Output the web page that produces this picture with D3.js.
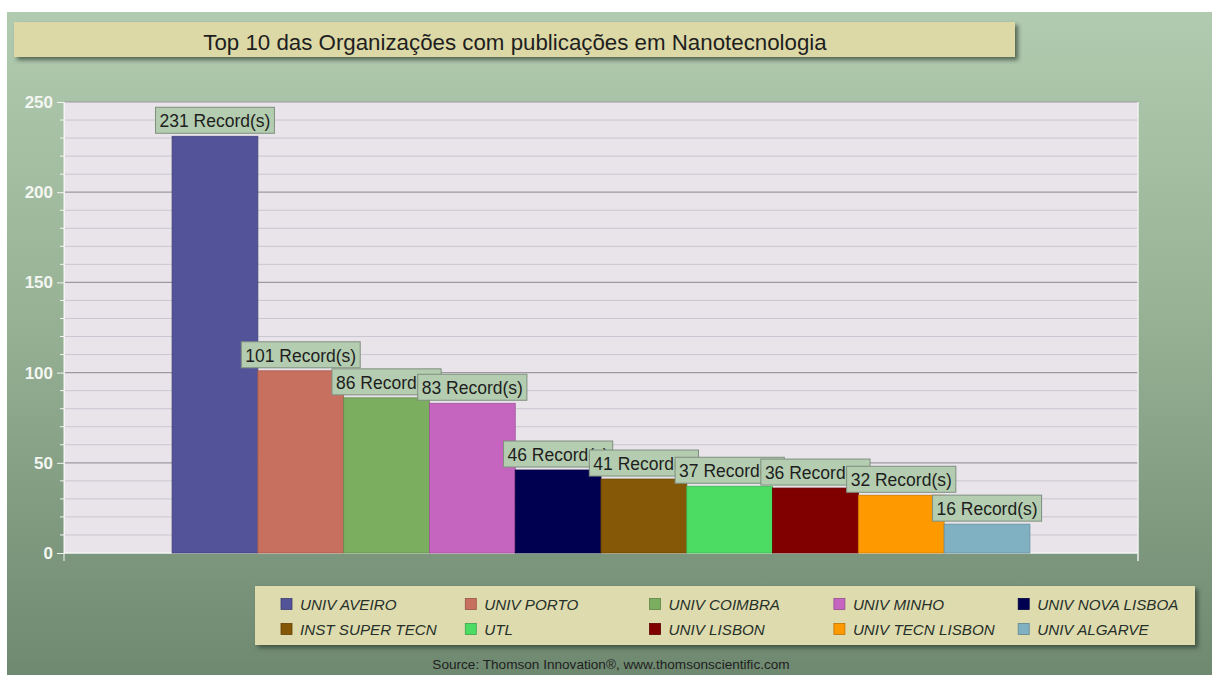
<!DOCTYPE html>
<html>
<head>
<meta charset="utf-8">
<script src="https://cdn.jsdelivr.net/npm/d3@7"></script>
<style>
  body { margin: 0; background: #fff; }
  text { font-family: "Liberation Sans", Arial, sans-serif; }
</style>
</head>
<body>
<div id="chart"></div>
<script>
// data
var orgs = ["UNIV AVEIRO", "UNIV PORTO", "UNIV COIMBRA", "UNIV MINHO", "UNIV NOVA LISBOA",
  "INST SUPER TECN", "UTL", "UNIV LISBON", "UNIV TECN LISBON", "UNIV ALGARVE"];
var records = [231, 101, 86, 83, 46, 41, 37, 36, 32, 16];
var barColors = ["#535399", "#c8705f", "#7bae5f", "#c565c0", "#000050",
  "#845806", "#4cdc64", "#800000", "#ff9900", "#80b1c2"];
var yTicks = [0, 50, 100, 150, 200, 250];

var w = 1212, h = 675;
var plot = { left: 64, right: 1138, top: 102, bottom: 553 };

var svg = d3.select("#chart").append("svg")
  .attr("width", w)
  .attr("height", h);

var defs = svg.append("defs");
var grad = defs.append("linearGradient")
  .attr("id", "bg").attr("x1", 0).attr("y1", 0).attr("x2", 0).attr("y2", 1);
grad.append("stop").attr("offset", "0%").attr("stop-color", "#b1cbb0");
grad.append("stop").attr("offset", "45%").attr("stop-color", "#97b295");
grad.append("stop").attr("offset", "100%").attr("stop-color", "#6e8970");

var shadow = defs.append("filter").attr("id", "shadow")
  .attr("x", "-5%").attr("y", "-30%").attr("width", "110%").attr("height", "170%");
shadow.append("feDropShadow").attr("dx", 3).attr("dy", 3).attr("stdDeviation", 2)
  .attr("flood-color", "#2f3a2f").attr("flood-opacity", 0.7);

// green panel
svg.append("rect")
  .attr("x", 7).attr("y", 12)
  .attr("width", w - 7).attr("height", h - 12)
  .attr("fill", "url(#bg)");

// title box
svg.append("rect")
  .attr("x", 14).attr("y", 22).attr("width", 1001).attr("height", 35)
  .attr("fill", "#dcd9a7")
  .attr("filter", "url(#shadow)");
svg.append("text")
  .attr("x", 515).attr("y", 50)
  .attr("text-anchor", "middle")
  .style("font-size", "22.3px")
  .style("fill", "#1e1e1e")
  .text("Top 10 das Organizações com publicações em Nanotecnologia");

var x = d3.scaleBand()
  .domain(orgs)
  .range([plot.left, plot.right])
  .paddingInner(0)
  .paddingOuter(1.26);

var y = d3.scaleLinear()
  .domain([0, 250])
  .range([plot.bottom, plot.top]);

// plot area
svg.append("rect")
  .attr("x", plot.left).attr("y", plot.top)
  .attr("width", plot.right - plot.left).attr("height", plot.bottom - plot.top)
  .attr("fill", "#e8e4ea");

// grid lines, minor every 10, major every 50
svg.append("g")
  .selectAll("line")
  .data(d3.range(10, 251, 10))
  .enter()
  .append("line")
  .attr("x1", plot.left).attr("x2", plot.right)
  .attr("y1", d => y(d)).attr("y2", d => y(d))
  .attr("stroke", d => d % 50 === 0 ? "#9d98a0" : "#cbc6cf")
  .attr("stroke-width", d => d % 50 === 0 ? 1.2 : 1);

// y axis
var yAxis = svg.append("g")
  .attr("transform", "translate(" + plot.left + ",0)")
  .call(d3.axisLeft(y).tickValues(yTicks).tickSize(7).tickPadding(4));
yAxis.select(".domain").attr("stroke", "#f4f4f4");
yAxis.selectAll(".tick line").attr("stroke", "#f4f4f4");
yAxis.selectAll("text")
  .style("font-size", "17px")
  .style("font-weight", "bold")
  .style("font-family", "'Liberation Sans', Arial, sans-serif")
  .attr("fill", "#f4f6f2");

// minor ticks
svg.append("g")
  .selectAll("line")
  .data(d3.range(10, 250, 10).filter(d => d % 50 !== 0))
  .enter()
  .append("line")
  .attr("x1", plot.left - 4).attr("x2", plot.left)
  .attr("y1", d => y(d)).attr("y2", d => y(d))
  .attr("stroke", "#f4f4f4");

// x axis line with end ticks
svg.append("line")
  .attr("x1", plot.left).attr("x2", plot.right)
  .attr("y1", plot.bottom).attr("y2", plot.bottom)
  .attr("stroke", "#f6f6f6").attr("stroke-width", 1.5);
svg.append("g")
  .selectAll("line")
  .data([plot.left, plot.right])
  .enter()
  .append("line")
  .attr("x1", d => d).attr("x2", d => d)
  .attr("y1", plot.top).attr("y2", plot.bottom + 8)
  .attr("stroke", d => d === plot.left ? "#f4f4f4" : "#f0f0f0")
  .attr("stroke-width", d => d === plot.left ? 1 : 1.5);

// bars
svg.append("g")
  .selectAll("rect")
  .data(records)
  .enter()
  .append("rect")
  .attr("x", (d, i) => x(orgs[i]))
  .attr("y", d => y(d))
  .attr("width", x.bandwidth())
  .attr("height", d => y(0) - y(d))
  .attr("fill", (d, i) => barColors[i])
  .attr("stroke", (d, i) => d3.color(barColors[i]).darker(0.6))
  .attr("stroke-width", 0.8);

// value labels, each drawn after the previous so they overlap like the original
var labels = svg.append("g");
records.forEach(function (d, i) {
  var cx = x(orgs[i]) + x.bandwidth() / 2;
  var g = labels.append("g");
  var box = g.append("rect")
    .attr("fill", "#b4cdb0")
    .attr("stroke", "#7f8f7f")
    .attr("stroke-width", 1);
  var t = g.append("text")
    .attr("x", cx)
    .attr("y", y(d) - 9)
    .attr("text-anchor", "middle")
    .style("font-size", "17.5px")
    .style("fill", "#1e1e1e")
    .text(d + " Record(s)");
  var tw = t.node().getComputedTextLength();
  box.attr("x", cx - tw / 2 - 4)
    .attr("y", y(d) - 29)
    .attr("width", tw + 8)
    .attr("height", 26);
});

// legend
var legend = svg.append("g");
legend.append("rect")
  .attr("x", 255).attr("y", 586).attr("width", 940).attr("height", 59)
  .attr("fill", "#dedbae")
  .attr("filter", "url(#shadow)");

var items = legend.selectAll(".item")
  .data(orgs)
  .enter()
  .append("g")
  .attr("class", "item")
  .attr("transform", (d, i) => "translate(" + (281 + (i % 5) * 184.3) + "," + (604 + Math.floor(i / 5) * 25) + ")");
items.append("rect")
  .attr("x", 0).attr("y", -5.5).attr("width", 11).attr("height", 11)
  .attr("fill", (d, i) => barColors[i])
  .attr("stroke", (d, i) => d3.color(barColors[i]).darker(0.8))
  .attr("stroke-width", 0.8);
items.append("text")
  .attr("x", 19).attr("y", 5.5)
  .style("font-size", "15.2px")
  .style("font-style", "italic")
  .style("fill", "#26302a")
  .text(d => d);

// source
svg.append("text")
  .attr("x", 611).attr("y", 669)
  .attr("text-anchor", "middle")
  .style("font-size", "13.6px")
  .style("fill", "#1e1e1e")
  .text("Source: Thomson Innovation®, www.thomsonscientific.com");
</script>
</body>
</html>
